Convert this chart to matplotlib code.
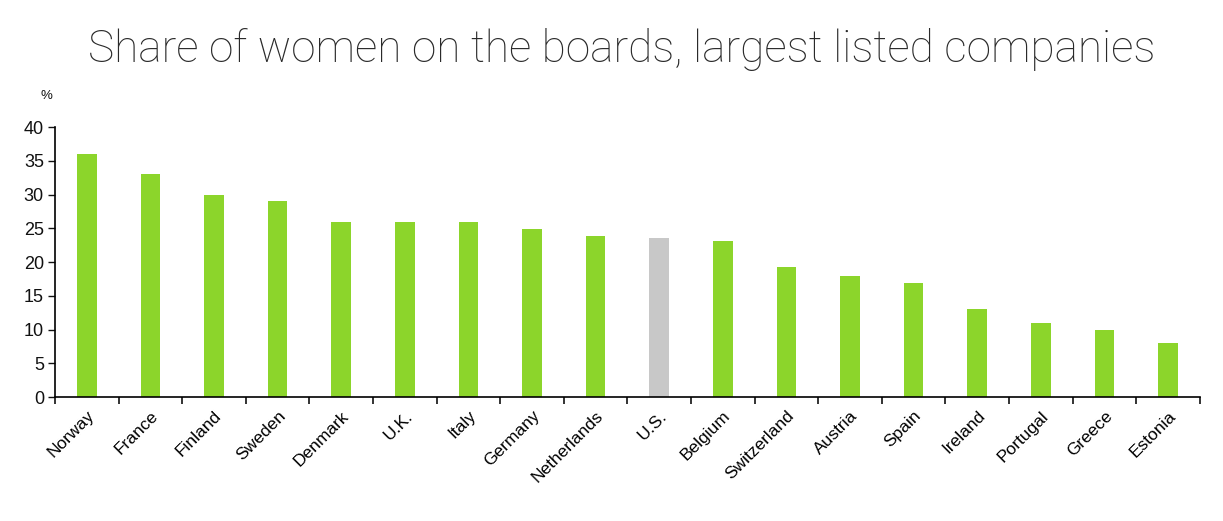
import numpy as np
import matplotlib
matplotlib.use("Agg")
import matplotlib.pyplot as plt

# Data
countries = ["Norway", "France", "Finland", "Sweden", "Denmark", "U.K.", "Italy",
             "Germany", "Netherlands", "U.S.", "Belgium", "Switzerland", "Austria",
             "Spain", "Ireland", "Portugal", "Greece", "Estonia"]
share = [36.0, 33.1, 30.0, 29.0, 26.0, 26.0, 26.0, 24.9, 23.9, 23.6, 23.1,
         19.3, 18.0, 16.9, 13.1, 11.0, 10.0, 8.0]
highlight = "U.S."

plt.rcParams['font.family'] = ['Liberation Sans', 'DejaVu Sans']

fig = plt.figure(figsize=(12.23, 5.21), dpi=100)
ax = fig.add_axes([0.045, 0.238, 0.936, 0.518])

colors = ["#c8c8c8" if c == highlight else "#8cd52b" for c in countries]
x = np.arange(len(countries))
ax.bar(x, share, width=0.31, color=colors)

ax.set_xlim(-0.5, len(countries) - 0.5)
ax.set_ylim(0, 40)
ax.set_yticks(range(0, 41, 5))
ax.tick_params(axis='y', labelsize=13, length=5, width=1, colors='#111111', pad=3)

ax.set_xticks(x)
ax.set_xticklabels(countries, rotation=45, ha='right', rotation_mode='anchor', fontsize=12.5)
ax.tick_params(axis='x', which='major', length=0, pad=8)
ax.set_xticks(np.arange(-0.5, len(countries)), minor=True)
ax.tick_params(axis='x', which='minor', length=5, width=1.2, color='#111111')

for s in ['top', 'right']:
    ax.spines[s].set_visible(False)
ax.spines['left'].set_linewidth(1.2)
ax.spines['bottom'].set_linewidth(1.2)

fig.text(0.033, 0.815, "%", fontsize=9.5, ha='left', va='center', color='#111111')
fig.text(0.508, 0.905, "Share of women on the boards, largest listed companies",
         fontsize=31.8, ha='center', va='center', color='#2a2a2a',
         family=['Roboto', 'DejaVu Sans'], fontweight='light')

fig.savefig("out.png", dpi=100)
